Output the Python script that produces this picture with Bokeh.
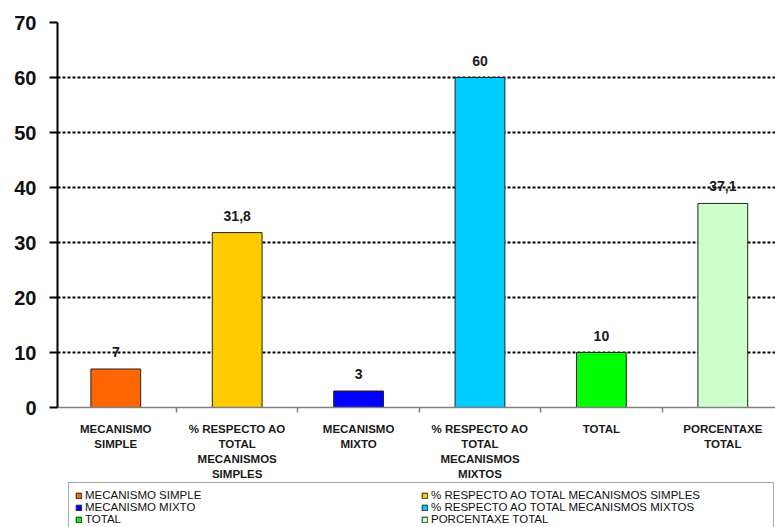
from bokeh.plotting import figure
from bokeh.models import Range1d, FixedTicker, Legend, LegendItem, ColumnDataSource
from bokeh.core.properties import value
from bokeh.embed import file_html
from bokeh.resources import INLINE

# ---- data ----
categories = [
    "MECANISMO\nSIMPLE",
    "% RESPECTO AO\nTOTAL\nMECANISMOS\nSIMPLES",
    "MECANISMO\nMIXTO",
    "% RESPECTO AO\nTOTAL\nMECANISMOS\nMIXTOS",
    "TOTAL",
    "PORCENTAXE\nTOTAL",
]
legend_labels = [
    "MECANISMO SIMPLE",
    "% RESPECTO AO TOTAL MECANISMOS SIMPLES",
    "MECANISMO MIXTO",
    "% RESPECTO AO TOTAL MECANISMOS MIXTOS",
    "TOTAL",
    "PORCENTAXE TOTAL",
]
values = [7, 31.8, 3, 60, 10, 37.1]
colors = ["#FF6600", "#FFCC00", "#0000FF", "#00CCFF", "#00FF00", "#CCFFCC"]
y_ticks = [0, 10, 20, 30, 40, 50, 60, 70]

FONT = "Liberation Sans"

xpos = [i + 0.5 for i in range(len(values))]
value_labels = [("%g" % v).replace(".", ",") for v in values]

src = ColumnDataSource(dict(x=xpos, top=values, color=colors, label=value_labels))

# frame: 0 -> 70 occupies 385 px (5.5 px per unit); the frame continues
# below zero so that the category labels and legend sit inside it.
PX_PER_UNIT = 385 / 70
BELOW_PX = 128
p = figure(
    frame_width=718, frame_height=385 + BELOW_PX,
    min_border_left=57, min_border_right=0, min_border_top=22, min_border_bottom=0,
    x_range=Range1d(0.02, 5.934), y_range=Range1d(-BELOW_PX / PX_PER_UNIT, 70),
    output_backend="svg", toolbar_location=None,
)
p.outline_line_color = None
p.background_fill_color = "white"
p.border_fill_color = "white"

bars = p.vbar(x="x", top="top", bottom=0, width=0.41, fill_color="color",
              line_color="#222222", line_width=1, source=src)

p.text(x="x", y="top", text="label", source=src, text_align="center",
       text_baseline="alphabetic", y_offset=-17,
       text_font=value(FONT), text_font_style="bold", text_font_size="14px",
       text_color="#1a1a1a")

# grid
p.xgrid.visible = False
p.ygrid.ticker = FixedTicker(ticks=y_ticks[1:])
p.ygrid.grid_line_color = "black"
p.ygrid.grid_line_width = 2
p.ygrid.grid_line_dash = "3 2"

# y axis
p.yaxis.ticker = FixedTicker(ticks=y_ticks)
p.yaxis.bounds = (y_ticks[0], y_ticks[-1])
p.yaxis.axis_line_color = "black"
p.yaxis.axis_line_width = 2
p.yaxis.major_tick_out = 8
p.yaxis.major_tick_in = 0
p.yaxis.major_tick_line_width = 2
p.yaxis.major_tick_line_color = "black"
p.yaxis.minor_tick_line_color = None
p.yaxis.major_label_standoff = 13
p.yaxis.major_label_text_font = FONT
p.yaxis.major_label_text_font_style = "bold"
p.yaxis.major_label_text_font_size = "20px"
p.yaxis.major_label_text_color = "#111111"

# x axis, drawn at y = 0
p.xaxis.fixed_location = 0
p.xaxis.ticker = FixedTicker(ticks=xpos, minor_ticks=[1, 2, 3, 4, 5])
p.xaxis.major_label_overrides = {x: c for x, c in zip(xpos, categories)}
p.xaxis.axis_line_color = "#808080"
p.xaxis.axis_line_width = 1.5
p.xaxis.major_tick_out = 0
p.xaxis.major_tick_in = 0
p.xaxis.minor_tick_out = 5
p.xaxis.minor_tick_in = 0
p.xaxis.minor_tick_line_color = "#808080"
p.xaxis.minor_tick_line_width = 1.5
p.xaxis.major_label_standoff = 10
p.xaxis.major_label_text_font = FONT
p.xaxis.major_label_text_font_style = "bold"
p.xaxis.major_label_text_font_size = "11.5px"
p.xaxis.major_label_text_line_height = 1.25
p.xaxis.major_label_text_color = "#1a1a1a"

# legend: two columns, filled column-wise
order = [0, 2, 4, 1, 3, 5]
items = [LegendItem(label=legend_labels[i], renderers=[bars], index=i) for i in order]
legend = Legend(
    items=items, ncols=2, location=(11, 3),
    label_text_font=FONT, label_text_font_size="11.5px", label_text_color="#111111",
    glyph_width=7, glyph_height=7, label_standoff=3, label_height=12, label_width=336,
    spacing=0, padding=6, margin=0,
    border_line_color="#555555", border_line_width=1,
)
p.add_layout(legend, "center")

open("out.html", "w").write(file_html(p, INLINE))
